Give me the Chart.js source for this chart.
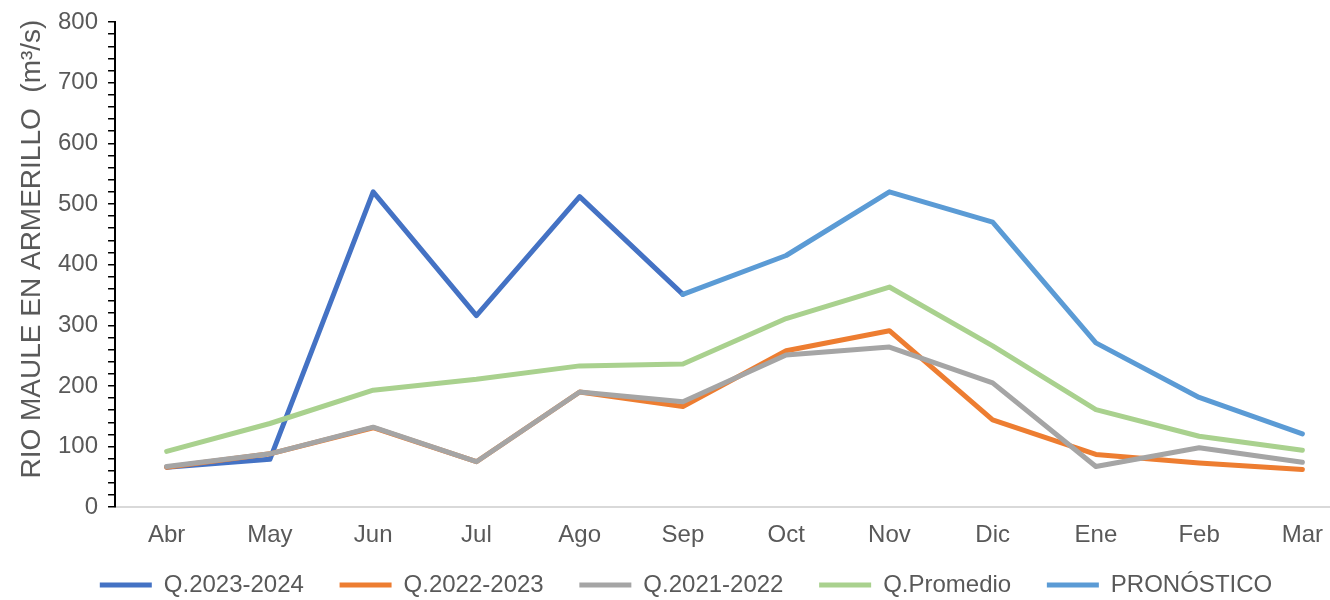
<!DOCTYPE html>
<html>
<head>
<meta charset="utf-8">
<script src="https://cdn.jsdelivr.net/npm/chart.js@4.4.1/dist/chart.umd.min.js"></script>
<style>
    html, body { margin: 0; padding: 0; background: #fff; overflow: hidden; }
    #wrap { width: 1356px; height: 600px; }
</style>
</head>
<body>
<div id="wrap"><canvas id="myChart" width="1356" height="600"></canvas></div>
<script>
// months (abril -> marzo)
const months = ['Abr', 'May', 'Jun', 'Jul', 'Ago', 'Sep', 'Oct', 'Nov', 'Dic', 'Ene', 'Feb', 'Mar'];

// caudales m3/s
const q2023_2024 = [66, 79, 520, 316, 512, 351, null, null, null, null, null, null];
const q2022_2023 = [66, 88, 131, 75, 190, 166, 258, 291, 144, 87, 73, 62];
const q2021_2022 = [67, 88, 132, 75, 190, 174, 251, 264, 205, 67, 98, 74];
const qPromedio  = [92, 138, 193, 211, 233, 236, 311, 363, 266, 161, 117, 94];
const pronostico = [null, null, null, null, null, 351, 415, 520, 470, 271, 181, 121];

// leading spaces push the rotated title a bit up, like the original
const yTitle = '    RIO MAULE EN ARMERILLO  (m³/s)';
const FONT = "'Liberation Sans', Arial, sans-serif";
const TXT = '#595959';

function serie(label, data, color, order) {
    return {
        label: label,
        data: data,
        borderColor: color,
        backgroundColor: color,
        borderWidth: 5,
        borderCapStyle: 'round',
        borderJoinStyle: 'round',
        pointRadius: 0,
        pointHoverRadius: 0,
        tension: 0,
        spanGaps: false,
        order: order
    };
}

const ctx = document.getElementById('myChart').getContext('2d');
const myChart = new Chart(ctx, {
    type: 'line',
    data: {
        labels: months,
        datasets: [
            serie('Q.2023-2024', q2023_2024, '#4472C4', 5),
            serie('Q.2022-2023', q2022_2023, '#ED7D31', 4),
            serie('Q.2021-2022', q2021_2022, '#A5A5A5', 3),
            serie('Q.Promedio', qPromedio, '#A9D18E', 2),
            serie('PRONÓSTICO', pronostico, '#5B9BD5', 1)
        ]
    },
    options: {
        responsive: false,
        animation: false,
        devicePixelRatio: 1,
        layout: {
            padding: {left: 18, right: 2, top: 0, bottom: 0}
        },
        scales: {
            x: {
                offset: true,
                grid: {drawOnChartArea: false, drawTicks: false},
                border: {color: '#D9D9D9', width: 2},
                ticks: {
                    color: TXT,
                    padding: 14,
                    font: {family: FONT, size: 24}
                }
            },
            y: {
                min: 0,
                max: 800,
                grid: {drawOnChartArea: false, color: '#000', tickLength: 7, lineWidth: 1.5},
                border: {color: '#000', width: 2},
                ticks: {
                    stepSize: 20,
                    autoSkip: false,
                    color: TXT,
                    padding: 10,
                    font: {family: FONT, size: 24, lineHeight: 1},
                    callback: function (v) { return v % 100 === 0 ? v : ''; }
                },
                title: {
                    display: true,
                    text: yTitle,
                    color: TXT,
                    padding: {top: 0, bottom: 2},
                    font: {family: FONT, size: 28, lineHeight: 1}
                }
            }
        },
        plugins: {
            tooltip: {enabled: false},
            legend: {
                position: 'bottom',
                maxHeight: 36,
                labels: {
                    color: TXT,
                    font: {family: FONT, size: 24},
                    usePointStyle: true,
                    pointStyle: 'line',
                    pointStyleWidth: 52,
                    padding: 9,
                    sort: (a, b) => a.datasetIndex - b.datasetIndex,
                    generateLabels: function (chart) {
                        const items = Chart.defaults.plugins.legend.labels.generateLabels(chart);
                        items.forEach(it => {
                            if (it.datasetIndex < 4) it.text = it.text + '    ';
                        });
                        return items;
                    }
                }
            }
        }
    }
});
</script>
</body>
</html>
